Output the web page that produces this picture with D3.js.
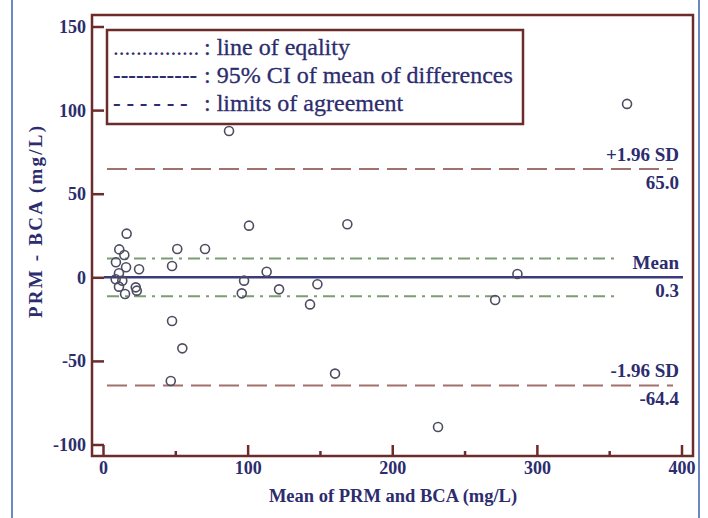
<!DOCTYPE html>
<html>
<head>
<meta charset="utf-8">
<script src="https://cdn.jsdelivr.net/npm/d3@7"></script>
<style>
  html, body { margin: 0; padding: 0; background: #fff; }
  svg { display: block; }
  text { font-family: "Liberation Serif", "Times New Roman", serif; }
</style>
</head>
<body>
<svg id="chart" width="708" height="518"></svg>
<script>
// Bland–Altman data: mean of the two methods vs. their difference (mg/L)
const meanValues = [362, 86.8, 100.6, 168.6, 97.2, 112.8, 95.6, 121.4, 147.9, 142.8,
  286.2, 270.8, 160.1, 231.3, 16.0, 51.0, 70.2, 10.9, 14.4, 8.6,
  15.6, 24.6, 47.4, 10.7, 8.4, 13.0, 10.7, 22.3, 23.0, 14.9,
  47.4, 54.5, 46.5];
const diffValues = [104, 87.8, 31.2, 32.0, -1.7, 3.6, -9.3, -6.9, -3.9, -15.9,
  2.3, -13.3, -57.3, -89.2, 26.4, 17.2, 17.2, 17.0, 13.6, 9.3,
  6.3, 5.1, 7.1, 2.7, -0.9, -1.7, -5.3, -5.7, -7.7, -9.7,
  -25.8, -42.2, -61.7];

// Summary statistics
const meanDiff = 0.3;
const upperLoA = 65.0;
const lowerLoA = -64.4;
const ciUpper = 11.6;
const ciLower = -11.0;

const xTicks = [0, 100, 200, 300, 400];
const xMinorTicks = [50, 150, 250, 350];
const yTicks = [150, 100, 50, 0, -50, -100];

const legendItems = [
  { glyph: "...............", label: ": line of eqality", bold: false },
  { glyph: "-----------", label: ": 95% CI of mean of differences", bold: true },
  { glyph: "- - - - - -", label: ": limits of agreement", bold: true }
];

const axisColor = "#6e2b2b";
const textColor = "#2c2c6e";

const svg = d3.select("#chart");

const x = d3.scaleLinear().domain([0, 400]).range([103.5, 682]);
const y = d3.scaleLinear().domain([-100, 150]).range([445, 27]);

// Page border lines
svg.append("line").attr("x1", 12).attr("x2", 12).attr("y1", 0).attr("y2", 518)
  .attr("stroke", "#3d5fae").attr("stroke-width", 1.5);
svg.append("line").attr("x1", 699).attr("x2", 699).attr("y1", 0).attr("y2", 518)
  .attr("stroke", "#3d5fae").attr("stroke-width", 1.5);

// Plot frame
const frame = { left: 92, right: 693, top: 15, bottom: 456 };
svg.append("rect")
  .attr("x", frame.left).attr("y", frame.top)
  .attr("width", frame.right - frame.left).attr("height", frame.bottom - frame.top)
  .attr("fill", "none").attr("stroke", axisColor).attr("stroke-width", 2.5);

// Y axis ticks and labels
const yAxis = svg.append("g");
yAxis.selectAll("line").data(yTicks).join("line")
  .attr("x1", frame.left).attr("x2", frame.left + 12)
  .attr("y1", d => y(d)).attr("y2", d => y(d))
  .attr("stroke", axisColor).attr("stroke-width", 2.5);
yAxis.selectAll("text").data(yTicks).join("text")
  .attr("x", 86).attr("y", d => y(d) + 6)
  .attr("text-anchor", "end")
  .attr("font-size", 18).attr("font-weight", "bold")
  .attr("fill", textColor)
  .text(d => d);

// X axis ticks and labels
const xAxis = svg.append("g");
xAxis.selectAll("line.major").data(xTicks).join("line")
  .attr("class", "major")
  .attr("x1", d => x(d)).attr("x2", d => x(d))
  .attr("y1", frame.bottom).attr("y2", frame.bottom - 11)
  .attr("stroke", axisColor).attr("stroke-width", 2.5);
xAxis.selectAll("line.minor").data(xMinorTicks).join("line")
  .attr("class", "minor")
  .attr("x1", d => x(d)).attr("x2", d => x(d))
  .attr("y1", frame.bottom).attr("y2", frame.bottom - 5)
  .attr("stroke", axisColor).attr("stroke-width", 2.5);
xAxis.selectAll("text").data(xTicks).join("text")
  .attr("x", d => x(d)).attr("y", 474)
  .attr("text-anchor", "middle")
  .attr("font-size", 18).attr("font-weight", "bold")
  .attr("fill", textColor)
  .text(d => d);

// Axis titles
svg.append("text")
  .attr("x", 393).attr("y", 502)
  .attr("text-anchor", "middle")
  .attr("font-size", 18.5).attr("font-weight", "bold")
  .attr("fill", textColor)
  .text("Mean of PRM and BCA (mg/L)");
svg.append("text")
  .attr("transform", "translate(42,222) rotate(-90)")
  .attr("text-anchor", "middle")
  .attr("font-size", 19).attr("font-weight", "bold")
  .attr("fill", textColor)
  .attr("textLength", 192).attr("lengthAdjust", "spacing")
  .text("PRM - BCA (mg/L)");

// 95% CI of the mean difference (dash-dot)
svg.selectAll("line.ci").data([ciUpper, ciLower]).join("line")
  .attr("class", "ci")
  .attr("x1", 107).attr("x2", 620)
  .attr("y1", d => y(d)).attr("y2", d => y(d))
  .attr("stroke", "#7d9c74").attr("stroke-width", 2)
  .attr("stroke-dasharray", "12,6,3,6");

// Limits of agreement (dashed)
svg.selectAll("line.loa").data([upperLoA, lowerLoA]).join("line")
  .attr("class", "loa")
  .attr("x1", 107).attr("x2", 673)
  .attr("y1", d => y(d)).attr("y2", d => y(d))
  .attr("stroke", "#a2716d").attr("stroke-width", 2)
  .attr("stroke-dasharray", "20,8");

// Mean difference (solid)
svg.append("line")
  .attr("x1", frame.left + 12).attr("x2", 683)
  .attr("y1", y(meanDiff)).attr("y2", y(meanDiff))
  .attr("stroke", "#3b3b7a").attr("stroke-width", 2.5);

// Data points
svg.append("g").selectAll("circle")
  .data(meanValues.map((m, i) => ({ m, d: diffValues[i] })))
  .join("circle")
  .attr("cx", p => x(p.m)).attr("cy", p => y(p.d))
  .attr("r", 4.5)
  .attr("fill", "none").attr("stroke", "#4d4d62").attr("stroke-width", 1.6);

// Line annotations on the right
const annotations = [
  { v: upperLoA, above: "+1.96 SD", below: upperLoA.toFixed(1) },
  { v: meanDiff, above: "Mean", below: meanDiff.toFixed(1) },
  { v: lowerLoA, above: "-1.96 SD", below: lowerLoA.toFixed(1) }
];
const ann = svg.append("g");
annotations.forEach(a => {
  ann.append("text").attr("x", 679).attr("y", y(a.v) - 8)
    .attr("text-anchor", "end").attr("font-size", 19).attr("font-weight", "bold")
    .attr("fill", textColor).text(a.above);
  ann.append("text").attr("x", 679).attr("y", y(a.v) + 20)
    .attr("text-anchor", "end").attr("font-size", 19).attr("font-weight", "bold")
    .attr("fill", textColor).text(a.below);
});

// Legend
const legend = svg.append("g");
legend.append("rect")
  .attr("x", 107).attr("y", 30).attr("width", 416).attr("height", 94)
  .attr("fill", "#fff").attr("stroke", axisColor).attr("stroke-width", 2.5);
legendItems.forEach((it, i) => {
  const by = 55 + i * 28;
  legend.append("text").attr("x", 113).attr("y", by)
    .attr("font-size", 23).attr("font-weight", it.bold ? "bold" : "normal")
    .attr("fill", textColor).text(it.glyph);
  legend.append("text").attr("x", 204).attr("y", by)
    .attr("font-size", 24).attr("fill", textColor)
    .attr("stroke", textColor).attr("stroke-width", 0.3)
    .text(it.label);
});
</script>
</body>
</html>
